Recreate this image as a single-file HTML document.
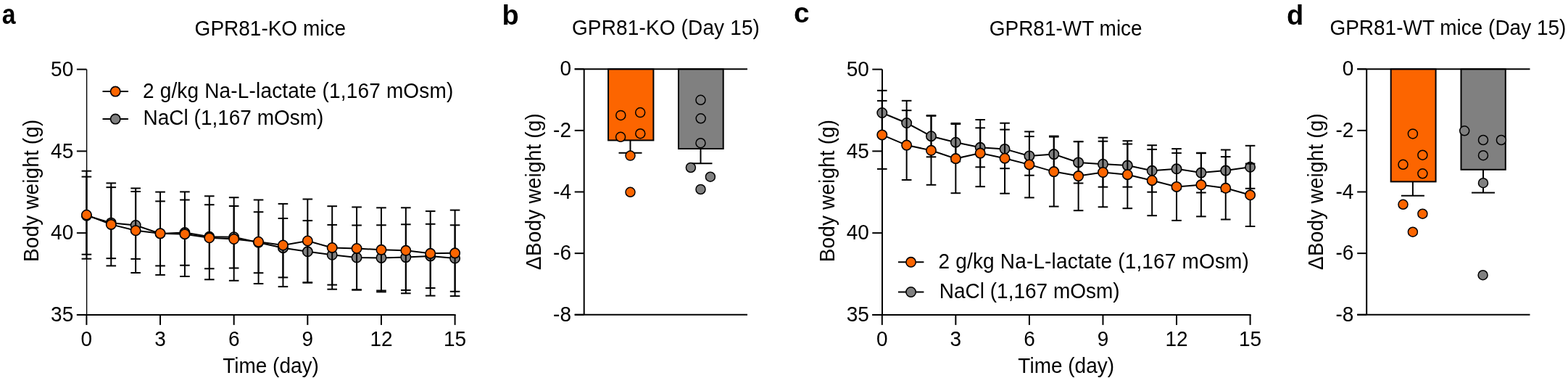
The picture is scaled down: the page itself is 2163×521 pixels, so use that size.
<!DOCTYPE html>
<html><head><meta charset="utf-8"><title>GPR81 body weight</title>
<style>
html,body{margin:0;padding:0;background:#fff;}
svg{display:block;}
text{font-family:'Liberation Sans', Arial, Helvetica, sans-serif;fill:#000;}
</style></head>
<body>
<svg width="2163" height="521" viewBox="0 0 2163 521">
<rect x="0" y="0" width="2163" height="521" fill="#fff"/>
<text transform="translate(2.80,33.40) scale(0.89,1)" font-size="38" font-weight="bold">a</text>
<text transform="translate(692.60,34.00) scale(1.0,1)" font-size="38" font-weight="bold">b</text>
<text transform="translate(1095.00,31.10) scale(1.02,1)" font-size="38" font-weight="bold">c</text>
<text transform="translate(1775.10,33.60) scale(1.0,1)" font-size="38" font-weight="bold">d</text>
<text transform="translate(372.80,49.20) scale(1,1.04)" text-anchor="middle" font-size="28" font-weight="normal" >GPR81-KO mice</text>
<text transform="translate(918.50,48.00) scale(1,1.04)" text-anchor="middle" font-size="28" font-weight="normal" letter-spacing="0.15">GPR81-KO (Day 15)</text>
<text transform="translate(1470.20,49.40) scale(1,1.04)" text-anchor="middle" font-size="28" font-weight="normal" >GPR81-WT mice</text>
<text transform="translate(1997.40,48.00) scale(1,1.04)" text-anchor="middle" font-size="28" font-weight="normal" >GPR81-WT mice (Day 15)</text>
<line x1="119.60" y1="95.60" x2="119.60" y2="434.90" stroke="#000" stroke-width="1.4"/>
<line x1="105.90" y1="95.60" x2="119.40" y2="95.60" stroke="#000" stroke-width="2"/>
<text transform="translate(101.20,104.80) scale(1,1.04)" text-anchor="end" font-size="28" font-weight="normal" >50</text>
<line x1="105.90" y1="208.37" x2="119.40" y2="208.37" stroke="#000" stroke-width="2"/>
<text transform="translate(101.20,217.57) scale(1,1.04)" text-anchor="end" font-size="28" font-weight="normal" >45</text>
<line x1="105.90" y1="321.13" x2="119.40" y2="321.13" stroke="#000" stroke-width="2"/>
<text transform="translate(101.20,330.33) scale(1,1.04)" text-anchor="end" font-size="28" font-weight="normal" >40</text>
<line x1="105.90" y1="433.90" x2="119.40" y2="433.90" stroke="#000" stroke-width="2"/>
<text transform="translate(101.20,443.10) scale(1,1.04)" text-anchor="end" font-size="28" font-weight="normal" >35</text>
<line x1="105.90" y1="433.90" x2="628.60" y2="433.90" stroke="#000" stroke-width="2"/>
<line x1="119.40" y1="433.90" x2="119.40" y2="447.90" stroke="#000" stroke-width="2"/>
<text transform="translate(119.40,476.90) scale(1,1.04)" text-anchor="middle" font-size="28" font-weight="normal" >0</text>
<line x1="221.04" y1="433.90" x2="221.04" y2="447.90" stroke="#000" stroke-width="2"/>
<text transform="translate(221.04,476.90) scale(1,1.04)" text-anchor="middle" font-size="28" font-weight="normal" >3</text>
<line x1="322.68" y1="433.90" x2="322.68" y2="447.90" stroke="#000" stroke-width="2"/>
<text transform="translate(322.68,476.90) scale(1,1.04)" text-anchor="middle" font-size="28" font-weight="normal" >6</text>
<line x1="424.32" y1="433.90" x2="424.32" y2="447.90" stroke="#000" stroke-width="2"/>
<text transform="translate(424.32,476.90) scale(1,1.04)" text-anchor="middle" font-size="28" font-weight="normal" >9</text>
<line x1="525.96" y1="433.90" x2="525.96" y2="447.90" stroke="#000" stroke-width="2"/>
<text transform="translate(525.96,476.90) scale(1,1.04)" text-anchor="middle" font-size="28" font-weight="normal" >12</text>
<line x1="627.60" y1="433.90" x2="627.60" y2="447.90" stroke="#000" stroke-width="2"/>
<text transform="translate(627.60,476.90) scale(1,1.04)" text-anchor="middle" font-size="28" font-weight="normal" >15</text>
<text transform="translate(373.50,513.80) scale(1,1.04)" text-anchor="middle" font-size="28" font-weight="normal" >Time (day)</text>
<text transform="translate(53.30,262.80) rotate(-90) scale(1,1.04)" text-anchor="middle" font-size="28" letter-spacing="0.14">Body weight (g)</text>
<line x1="119.40" y1="243.60" x2="119.40" y2="350.70" stroke="#000" stroke-width="2"/>
<line x1="112.60" y1="243.60" x2="126.20" y2="243.60" stroke="#000" stroke-width="2"/>
<line x1="112.60" y1="350.70" x2="126.20" y2="350.70" stroke="#000" stroke-width="2"/>
<line x1="153.28" y1="258.15" x2="153.28" y2="356.15" stroke="#000" stroke-width="2"/>
<line x1="146.48" y1="258.15" x2="160.08" y2="258.15" stroke="#000" stroke-width="2"/>
<line x1="146.48" y1="356.15" x2="160.08" y2="356.15" stroke="#000" stroke-width="2"/>
<line x1="187.16" y1="264.00" x2="187.16" y2="356.90" stroke="#000" stroke-width="2"/>
<line x1="180.36" y1="264.00" x2="193.96" y2="264.00" stroke="#000" stroke-width="2"/>
<line x1="180.36" y1="356.90" x2="193.96" y2="356.90" stroke="#000" stroke-width="2"/>
<line x1="221.04" y1="277.40" x2="221.04" y2="366.40" stroke="#000" stroke-width="2"/>
<line x1="214.24" y1="277.40" x2="227.84" y2="277.40" stroke="#000" stroke-width="2"/>
<line x1="214.24" y1="366.40" x2="227.84" y2="366.40" stroke="#000" stroke-width="2"/>
<line x1="254.92" y1="275.50" x2="254.92" y2="365.70" stroke="#000" stroke-width="2"/>
<line x1="248.12" y1="275.50" x2="261.72" y2="275.50" stroke="#000" stroke-width="2"/>
<line x1="248.12" y1="365.70" x2="261.72" y2="365.70" stroke="#000" stroke-width="2"/>
<line x1="288.80" y1="282.20" x2="288.80" y2="370.30" stroke="#000" stroke-width="2"/>
<line x1="282.00" y1="282.20" x2="295.60" y2="282.20" stroke="#000" stroke-width="2"/>
<line x1="282.00" y1="370.30" x2="295.60" y2="370.30" stroke="#000" stroke-width="2"/>
<line x1="322.68" y1="284.00" x2="322.68" y2="369.50" stroke="#000" stroke-width="2"/>
<line x1="315.88" y1="284.00" x2="329.48" y2="284.00" stroke="#000" stroke-width="2"/>
<line x1="315.88" y1="369.50" x2="329.48" y2="369.50" stroke="#000" stroke-width="2"/>
<line x1="356.56" y1="292.20" x2="356.56" y2="376.20" stroke="#000" stroke-width="2"/>
<line x1="349.76" y1="292.20" x2="363.36" y2="292.20" stroke="#000" stroke-width="2"/>
<line x1="349.76" y1="376.20" x2="363.36" y2="376.20" stroke="#000" stroke-width="2"/>
<line x1="390.44" y1="301.00" x2="390.44" y2="382.40" stroke="#000" stroke-width="2"/>
<line x1="383.64" y1="301.00" x2="397.24" y2="301.00" stroke="#000" stroke-width="2"/>
<line x1="383.64" y1="382.40" x2="397.24" y2="382.40" stroke="#000" stroke-width="2"/>
<line x1="424.32" y1="304.10" x2="424.32" y2="389.50" stroke="#000" stroke-width="2"/>
<line x1="417.52" y1="304.10" x2="431.12" y2="304.10" stroke="#000" stroke-width="2"/>
<line x1="417.52" y1="389.50" x2="431.12" y2="389.50" stroke="#000" stroke-width="2"/>
<line x1="458.20" y1="309.90" x2="458.20" y2="392.60" stroke="#000" stroke-width="2"/>
<line x1="451.40" y1="309.90" x2="465.00" y2="309.90" stroke="#000" stroke-width="2"/>
<line x1="451.40" y1="392.60" x2="465.00" y2="392.60" stroke="#000" stroke-width="2"/>
<line x1="492.08" y1="310.50" x2="492.08" y2="399.50" stroke="#000" stroke-width="2"/>
<line x1="485.28" y1="310.50" x2="498.88" y2="310.50" stroke="#000" stroke-width="2"/>
<line x1="485.28" y1="399.50" x2="498.88" y2="399.50" stroke="#000" stroke-width="2"/>
<line x1="525.96" y1="310.30" x2="525.96" y2="400.50" stroke="#000" stroke-width="2"/>
<line x1="519.16" y1="310.30" x2="532.76" y2="310.30" stroke="#000" stroke-width="2"/>
<line x1="519.16" y1="400.50" x2="532.76" y2="400.50" stroke="#000" stroke-width="2"/>
<line x1="559.84" y1="309.30" x2="559.84" y2="399.90" stroke="#000" stroke-width="2"/>
<line x1="553.04" y1="309.30" x2="566.64" y2="309.30" stroke="#000" stroke-width="2"/>
<line x1="553.04" y1="399.90" x2="566.64" y2="399.90" stroke="#000" stroke-width="2"/>
<line x1="593.72" y1="308.80" x2="593.72" y2="397.00" stroke="#000" stroke-width="2"/>
<line x1="586.92" y1="308.80" x2="600.52" y2="308.80" stroke="#000" stroke-width="2"/>
<line x1="586.92" y1="397.00" x2="600.52" y2="397.00" stroke="#000" stroke-width="2"/>
<line x1="627.60" y1="310.30" x2="627.60" y2="401.80" stroke="#000" stroke-width="2"/>
<line x1="620.80" y1="310.30" x2="634.40" y2="310.30" stroke="#000" stroke-width="2"/>
<line x1="620.80" y1="401.80" x2="634.40" y2="401.80" stroke="#000" stroke-width="2"/>
<polyline points="119.40,297.15 153.28,307.15 187.16,310.45 221.04,321.90 254.92,320.60 288.80,326.25 322.68,326.75 356.56,334.20 390.44,341.70 424.32,346.80 458.20,351.25 492.08,355.00 525.96,355.40 559.84,354.60 593.72,352.90 627.60,356.05" fill="none" stroke="#000" stroke-width="2"/>
<circle cx="119.40" cy="297.15" r="6.7" fill="#808080" stroke="#000" stroke-width="1.6"/>
<circle cx="153.28" cy="307.15" r="6.7" fill="#808080" stroke="#000" stroke-width="1.6"/>
<circle cx="187.16" cy="310.45" r="6.7" fill="#808080" stroke="#000" stroke-width="1.6"/>
<circle cx="221.04" cy="321.90" r="6.7" fill="#808080" stroke="#000" stroke-width="1.6"/>
<circle cx="254.92" cy="320.60" r="6.7" fill="#808080" stroke="#000" stroke-width="1.6"/>
<circle cx="288.80" cy="326.25" r="6.7" fill="#808080" stroke="#000" stroke-width="1.6"/>
<circle cx="322.68" cy="326.75" r="6.7" fill="#808080" stroke="#000" stroke-width="1.6"/>
<circle cx="356.56" cy="334.20" r="6.7" fill="#808080" stroke="#000" stroke-width="1.6"/>
<circle cx="390.44" cy="341.70" r="6.7" fill="#808080" stroke="#000" stroke-width="1.6"/>
<circle cx="424.32" cy="346.80" r="6.7" fill="#808080" stroke="#000" stroke-width="1.6"/>
<circle cx="458.20" cy="351.25" r="6.7" fill="#808080" stroke="#000" stroke-width="1.6"/>
<circle cx="492.08" cy="355.00" r="6.7" fill="#808080" stroke="#000" stroke-width="1.6"/>
<circle cx="525.96" cy="355.40" r="6.7" fill="#808080" stroke="#000" stroke-width="1.6"/>
<circle cx="559.84" cy="354.60" r="6.7" fill="#808080" stroke="#000" stroke-width="1.6"/>
<circle cx="593.72" cy="352.90" r="6.7" fill="#808080" stroke="#000" stroke-width="1.6"/>
<circle cx="627.60" cy="356.05" r="6.7" fill="#808080" stroke="#000" stroke-width="1.6"/>
<line x1="119.40" y1="235.70" x2="119.40" y2="356.70" stroke="#000" stroke-width="2"/>
<line x1="112.60" y1="235.70" x2="126.20" y2="235.70" stroke="#000" stroke-width="2"/>
<line x1="112.60" y1="356.70" x2="126.20" y2="356.70" stroke="#000" stroke-width="2"/>
<line x1="153.28" y1="252.40" x2="153.28" y2="366.40" stroke="#000" stroke-width="2"/>
<line x1="146.48" y1="252.40" x2="160.08" y2="252.40" stroke="#000" stroke-width="2"/>
<line x1="146.48" y1="366.40" x2="160.08" y2="366.40" stroke="#000" stroke-width="2"/>
<line x1="187.16" y1="259.50" x2="187.16" y2="376.00" stroke="#000" stroke-width="2"/>
<line x1="180.36" y1="259.50" x2="193.96" y2="259.50" stroke="#000" stroke-width="2"/>
<line x1="180.36" y1="376.00" x2="193.96" y2="376.00" stroke="#000" stroke-width="2"/>
<line x1="221.04" y1="264.60" x2="221.04" y2="378.90" stroke="#000" stroke-width="2"/>
<line x1="214.24" y1="264.60" x2="227.84" y2="264.60" stroke="#000" stroke-width="2"/>
<line x1="214.24" y1="378.90" x2="227.84" y2="378.90" stroke="#000" stroke-width="2"/>
<line x1="254.92" y1="264.40" x2="254.92" y2="381.00" stroke="#000" stroke-width="2"/>
<line x1="248.12" y1="264.40" x2="261.72" y2="264.40" stroke="#000" stroke-width="2"/>
<line x1="248.12" y1="381.00" x2="261.72" y2="381.00" stroke="#000" stroke-width="2"/>
<line x1="288.80" y1="270.30" x2="288.80" y2="385.30" stroke="#000" stroke-width="2"/>
<line x1="282.00" y1="270.30" x2="295.60" y2="270.30" stroke="#000" stroke-width="2"/>
<line x1="282.00" y1="385.30" x2="295.60" y2="385.30" stroke="#000" stroke-width="2"/>
<line x1="322.68" y1="272.20" x2="322.68" y2="386.80" stroke="#000" stroke-width="2"/>
<line x1="315.88" y1="272.20" x2="329.48" y2="272.20" stroke="#000" stroke-width="2"/>
<line x1="315.88" y1="386.80" x2="329.48" y2="386.80" stroke="#000" stroke-width="2"/>
<line x1="356.56" y1="275.50" x2="356.56" y2="391.00" stroke="#000" stroke-width="2"/>
<line x1="349.76" y1="275.50" x2="363.36" y2="275.50" stroke="#000" stroke-width="2"/>
<line x1="349.76" y1="391.00" x2="363.36" y2="391.00" stroke="#000" stroke-width="2"/>
<line x1="390.44" y1="280.90" x2="390.44" y2="395.10" stroke="#000" stroke-width="2"/>
<line x1="383.64" y1="280.90" x2="397.24" y2="280.90" stroke="#000" stroke-width="2"/>
<line x1="383.64" y1="395.10" x2="397.24" y2="395.10" stroke="#000" stroke-width="2"/>
<line x1="424.32" y1="274.50" x2="424.32" y2="389.50" stroke="#000" stroke-width="2"/>
<line x1="417.52" y1="274.50" x2="431.12" y2="274.50" stroke="#000" stroke-width="2"/>
<line x1="417.52" y1="389.50" x2="431.12" y2="389.50" stroke="#000" stroke-width="2"/>
<line x1="458.20" y1="284.20" x2="458.20" y2="398.70" stroke="#000" stroke-width="2"/>
<line x1="451.40" y1="284.20" x2="465.00" y2="284.20" stroke="#000" stroke-width="2"/>
<line x1="451.40" y1="398.70" x2="465.00" y2="398.70" stroke="#000" stroke-width="2"/>
<line x1="492.08" y1="285.45" x2="492.08" y2="399.45" stroke="#000" stroke-width="2"/>
<line x1="485.28" y1="285.45" x2="498.88" y2="285.45" stroke="#000" stroke-width="2"/>
<line x1="485.28" y1="399.45" x2="498.88" y2="399.45" stroke="#000" stroke-width="2"/>
<line x1="525.96" y1="286.35" x2="525.96" y2="402.35" stroke="#000" stroke-width="2"/>
<line x1="519.16" y1="286.35" x2="532.76" y2="286.35" stroke="#000" stroke-width="2"/>
<line x1="519.16" y1="402.35" x2="532.76" y2="402.35" stroke="#000" stroke-width="2"/>
<line x1="559.84" y1="286.30" x2="559.84" y2="404.30" stroke="#000" stroke-width="2"/>
<line x1="553.04" y1="286.30" x2="566.64" y2="286.30" stroke="#000" stroke-width="2"/>
<line x1="553.04" y1="404.30" x2="566.64" y2="404.30" stroke="#000" stroke-width="2"/>
<line x1="593.72" y1="291.10" x2="593.72" y2="407.60" stroke="#000" stroke-width="2"/>
<line x1="586.92" y1="291.10" x2="600.52" y2="291.10" stroke="#000" stroke-width="2"/>
<line x1="586.92" y1="407.60" x2="600.52" y2="407.60" stroke="#000" stroke-width="2"/>
<line x1="627.60" y1="289.60" x2="627.60" y2="408.10" stroke="#000" stroke-width="2"/>
<line x1="620.80" y1="289.60" x2="634.40" y2="289.60" stroke="#000" stroke-width="2"/>
<line x1="620.80" y1="408.10" x2="634.40" y2="408.10" stroke="#000" stroke-width="2"/>
<polyline points="119.40,296.20 153.28,309.40 187.16,317.75 221.04,321.75 254.92,322.70 288.80,327.80 322.68,329.50 356.56,333.25 390.44,338.00 424.32,332.00 458.20,341.45 492.08,342.45 525.96,344.35 559.84,345.30 593.72,349.35 627.60,348.85" fill="none" stroke="#000" stroke-width="2"/>
<circle cx="119.40" cy="296.20" r="6.7" fill="#FC6500" stroke="#000" stroke-width="1.6"/>
<circle cx="153.28" cy="309.40" r="6.7" fill="#FC6500" stroke="#000" stroke-width="1.6"/>
<circle cx="187.16" cy="317.75" r="6.7" fill="#FC6500" stroke="#000" stroke-width="1.6"/>
<circle cx="221.04" cy="321.75" r="6.7" fill="#FC6500" stroke="#000" stroke-width="1.6"/>
<circle cx="254.92" cy="322.70" r="6.7" fill="#FC6500" stroke="#000" stroke-width="1.6"/>
<circle cx="288.80" cy="327.80" r="6.7" fill="#FC6500" stroke="#000" stroke-width="1.6"/>
<circle cx="322.68" cy="329.50" r="6.7" fill="#FC6500" stroke="#000" stroke-width="1.6"/>
<circle cx="356.56" cy="333.25" r="6.7" fill="#FC6500" stroke="#000" stroke-width="1.6"/>
<circle cx="390.44" cy="338.00" r="6.7" fill="#FC6500" stroke="#000" stroke-width="1.6"/>
<circle cx="424.32" cy="332.00" r="6.7" fill="#FC6500" stroke="#000" stroke-width="1.6"/>
<circle cx="458.20" cy="341.45" r="6.7" fill="#FC6500" stroke="#000" stroke-width="1.6"/>
<circle cx="492.08" cy="342.45" r="6.7" fill="#FC6500" stroke="#000" stroke-width="1.6"/>
<circle cx="525.96" cy="344.35" r="6.7" fill="#FC6500" stroke="#000" stroke-width="1.6"/>
<circle cx="559.84" cy="345.30" r="6.7" fill="#FC6500" stroke="#000" stroke-width="1.6"/>
<circle cx="593.72" cy="349.35" r="6.7" fill="#FC6500" stroke="#000" stroke-width="1.6"/>
<circle cx="627.60" cy="348.85" r="6.7" fill="#FC6500" stroke="#000" stroke-width="1.6"/>
<line x1="141.50" y1="126.10" x2="177.00" y2="126.10" stroke="#000" stroke-width="2"/>
<circle cx="159.20" cy="126.10" r="6.7" fill="#FC6500" stroke="#000" stroke-width="1.6"/>
<line x1="141.50" y1="164.10" x2="177.00" y2="164.10" stroke="#000" stroke-width="2"/>
<circle cx="159.20" cy="164.10" r="6.7" fill="#808080" stroke="#000" stroke-width="1.6"/>
<text transform="translate(197.00,134.50) scale(1,1.04)" text-anchor="start" font-size="28" font-weight="normal" letter-spacing="0.17">2 g/kg Na-L-lactate (1,167 mOsm)</text>
<text transform="translate(197.60,172.00) scale(1,1.04)" text-anchor="start" font-size="28" font-weight="normal" >NaCl (1,167 mOsm)</text>
<line x1="1217.00" y1="95.60" x2="1217.00" y2="434.90" stroke="#000" stroke-width="2.0"/>
<line x1="1203.30" y1="95.60" x2="1216.80" y2="95.60" stroke="#000" stroke-width="2"/>
<text transform="translate(1198.80,104.80) scale(1,1.04)" text-anchor="end" font-size="28" font-weight="normal" >50</text>
<line x1="1203.30" y1="208.37" x2="1216.80" y2="208.37" stroke="#000" stroke-width="2"/>
<text transform="translate(1198.80,217.57) scale(1,1.04)" text-anchor="end" font-size="28" font-weight="normal" >45</text>
<line x1="1203.30" y1="321.13" x2="1216.80" y2="321.13" stroke="#000" stroke-width="2"/>
<text transform="translate(1198.80,330.33) scale(1,1.04)" text-anchor="end" font-size="28" font-weight="normal" >40</text>
<line x1="1203.30" y1="433.90" x2="1216.80" y2="433.90" stroke="#000" stroke-width="2"/>
<text transform="translate(1198.80,443.10) scale(1,1.04)" text-anchor="end" font-size="28" font-weight="normal" >35</text>
<line x1="1203.30" y1="433.90" x2="1725.60" y2="433.90" stroke="#000" stroke-width="2"/>
<line x1="1216.80" y1="433.90" x2="1216.80" y2="447.90" stroke="#000" stroke-width="2"/>
<text transform="translate(1216.80,476.90) scale(1,1.04)" text-anchor="middle" font-size="28" font-weight="normal" >0</text>
<line x1="1318.36" y1="433.90" x2="1318.36" y2="447.90" stroke="#000" stroke-width="2"/>
<text transform="translate(1318.36,476.90) scale(1,1.04)" text-anchor="middle" font-size="28" font-weight="normal" >3</text>
<line x1="1419.92" y1="433.90" x2="1419.92" y2="447.90" stroke="#000" stroke-width="2"/>
<text transform="translate(1419.92,476.90) scale(1,1.04)" text-anchor="middle" font-size="28" font-weight="normal" >6</text>
<line x1="1521.48" y1="433.90" x2="1521.48" y2="447.90" stroke="#000" stroke-width="2"/>
<text transform="translate(1521.48,476.90) scale(1,1.04)" text-anchor="middle" font-size="28" font-weight="normal" >9</text>
<line x1="1623.04" y1="433.90" x2="1623.04" y2="447.90" stroke="#000" stroke-width="2"/>
<text transform="translate(1623.04,476.90) scale(1,1.04)" text-anchor="middle" font-size="28" font-weight="normal" >12</text>
<line x1="1724.60" y1="433.90" x2="1724.60" y2="447.90" stroke="#000" stroke-width="2"/>
<text transform="translate(1724.60,476.90) scale(1,1.04)" text-anchor="middle" font-size="28" font-weight="normal" >15</text>
<text transform="translate(1470.70,513.80) scale(1,1.04)" text-anchor="middle" font-size="28" font-weight="normal" >Time (day)</text>
<text transform="translate(1151.20,263.00) rotate(-90) scale(1,1.04)" text-anchor="middle" font-size="28" letter-spacing="0.14">Body weight (g)</text>
<line x1="1216.80" y1="124.80" x2="1216.80" y2="186.20" stroke="#000" stroke-width="2"/>
<line x1="1210.00" y1="124.80" x2="1223.60" y2="124.80" stroke="#000" stroke-width="2"/>
<line x1="1210.00" y1="186.20" x2="1223.60" y2="186.20" stroke="#000" stroke-width="2"/>
<line x1="1250.65" y1="138.80" x2="1250.65" y2="200.20" stroke="#000" stroke-width="2"/>
<line x1="1243.85" y1="138.80" x2="1257.45" y2="138.80" stroke="#000" stroke-width="2"/>
<line x1="1243.85" y1="200.20" x2="1257.45" y2="200.20" stroke="#000" stroke-width="2"/>
<line x1="1284.51" y1="159.10" x2="1284.51" y2="216.30" stroke="#000" stroke-width="2"/>
<line x1="1277.71" y1="159.10" x2="1291.31" y2="159.10" stroke="#000" stroke-width="2"/>
<line x1="1277.71" y1="216.30" x2="1291.31" y2="216.30" stroke="#000" stroke-width="2"/>
<line x1="1318.36" y1="169.90" x2="1318.36" y2="222.50" stroke="#000" stroke-width="2"/>
<line x1="1311.56" y1="169.90" x2="1325.16" y2="169.90" stroke="#000" stroke-width="2"/>
<line x1="1311.56" y1="222.50" x2="1325.16" y2="222.50" stroke="#000" stroke-width="2"/>
<line x1="1352.21" y1="176.30" x2="1352.21" y2="230.30" stroke="#000" stroke-width="2"/>
<line x1="1345.41" y1="176.30" x2="1359.01" y2="176.30" stroke="#000" stroke-width="2"/>
<line x1="1345.41" y1="230.30" x2="1359.01" y2="230.30" stroke="#000" stroke-width="2"/>
<line x1="1386.07" y1="178.60" x2="1386.07" y2="232.20" stroke="#000" stroke-width="2"/>
<line x1="1379.27" y1="178.60" x2="1392.87" y2="178.60" stroke="#000" stroke-width="2"/>
<line x1="1379.27" y1="232.20" x2="1392.87" y2="232.20" stroke="#000" stroke-width="2"/>
<line x1="1419.92" y1="188.10" x2="1419.92" y2="241.70" stroke="#000" stroke-width="2"/>
<line x1="1413.12" y1="188.10" x2="1426.72" y2="188.10" stroke="#000" stroke-width="2"/>
<line x1="1413.12" y1="241.70" x2="1426.72" y2="241.70" stroke="#000" stroke-width="2"/>
<line x1="1453.77" y1="187.60" x2="1453.77" y2="237.60" stroke="#000" stroke-width="2"/>
<line x1="1446.97" y1="187.60" x2="1460.57" y2="187.60" stroke="#000" stroke-width="2"/>
<line x1="1446.97" y1="237.60" x2="1460.57" y2="237.60" stroke="#000" stroke-width="2"/>
<line x1="1487.63" y1="195.30" x2="1487.63" y2="252.50" stroke="#000" stroke-width="2"/>
<line x1="1480.83" y1="195.30" x2="1494.43" y2="195.30" stroke="#000" stroke-width="2"/>
<line x1="1480.83" y1="252.50" x2="1494.43" y2="252.50" stroke="#000" stroke-width="2"/>
<line x1="1521.48" y1="194.70" x2="1521.48" y2="257.70" stroke="#000" stroke-width="2"/>
<line x1="1514.68" y1="194.70" x2="1528.28" y2="194.70" stroke="#000" stroke-width="2"/>
<line x1="1514.68" y1="257.70" x2="1528.28" y2="257.70" stroke="#000" stroke-width="2"/>
<line x1="1555.33" y1="198.50" x2="1555.33" y2="257.70" stroke="#000" stroke-width="2"/>
<line x1="1548.53" y1="198.50" x2="1562.13" y2="198.50" stroke="#000" stroke-width="2"/>
<line x1="1548.53" y1="257.70" x2="1562.13" y2="257.70" stroke="#000" stroke-width="2"/>
<line x1="1589.19" y1="205.90" x2="1589.19" y2="264.70" stroke="#000" stroke-width="2"/>
<line x1="1582.39" y1="205.90" x2="1595.99" y2="205.90" stroke="#000" stroke-width="2"/>
<line x1="1582.39" y1="264.70" x2="1595.99" y2="264.70" stroke="#000" stroke-width="2"/>
<line x1="1623.04" y1="205.10" x2="1623.04" y2="260.50" stroke="#000" stroke-width="2"/>
<line x1="1616.24" y1="205.10" x2="1629.84" y2="205.10" stroke="#000" stroke-width="2"/>
<line x1="1616.24" y1="260.50" x2="1629.84" y2="260.50" stroke="#000" stroke-width="2"/>
<line x1="1656.89" y1="210.70" x2="1656.89" y2="265.50" stroke="#000" stroke-width="2"/>
<line x1="1650.09" y1="210.70" x2="1663.69" y2="210.70" stroke="#000" stroke-width="2"/>
<line x1="1650.09" y1="265.50" x2="1663.69" y2="265.50" stroke="#000" stroke-width="2"/>
<line x1="1690.75" y1="206.50" x2="1690.75" y2="263.70" stroke="#000" stroke-width="2"/>
<line x1="1683.95" y1="206.50" x2="1697.55" y2="206.50" stroke="#000" stroke-width="2"/>
<line x1="1683.95" y1="263.70" x2="1697.55" y2="263.70" stroke="#000" stroke-width="2"/>
<line x1="1724.60" y1="200.80" x2="1724.60" y2="259.80" stroke="#000" stroke-width="2"/>
<line x1="1717.80" y1="200.80" x2="1731.40" y2="200.80" stroke="#000" stroke-width="2"/>
<line x1="1717.80" y1="259.80" x2="1731.40" y2="259.80" stroke="#000" stroke-width="2"/>
<polyline points="1216.80,155.50 1250.65,169.50 1284.51,187.70 1318.36,196.20 1352.21,203.30 1386.07,205.40 1419.92,214.90 1453.77,212.60 1487.63,223.90 1521.48,226.20 1555.33,228.10 1589.19,235.30 1623.04,232.80 1656.89,238.10 1690.75,235.10 1724.60,230.30" fill="none" stroke="#000" stroke-width="2"/>
<circle cx="1216.80" cy="155.50" r="6.7" fill="#808080" stroke="#000" stroke-width="1.6"/>
<circle cx="1250.65" cy="169.50" r="6.7" fill="#808080" stroke="#000" stroke-width="1.6"/>
<circle cx="1284.51" cy="187.70" r="6.7" fill="#808080" stroke="#000" stroke-width="1.6"/>
<circle cx="1318.36" cy="196.20" r="6.7" fill="#808080" stroke="#000" stroke-width="1.6"/>
<circle cx="1352.21" cy="203.30" r="6.7" fill="#808080" stroke="#000" stroke-width="1.6"/>
<circle cx="1386.07" cy="205.40" r="6.7" fill="#808080" stroke="#000" stroke-width="1.6"/>
<circle cx="1419.92" cy="214.90" r="6.7" fill="#808080" stroke="#000" stroke-width="1.6"/>
<circle cx="1453.77" cy="212.60" r="6.7" fill="#808080" stroke="#000" stroke-width="1.6"/>
<circle cx="1487.63" cy="223.90" r="6.7" fill="#808080" stroke="#000" stroke-width="1.6"/>
<circle cx="1521.48" cy="226.20" r="6.7" fill="#808080" stroke="#000" stroke-width="1.6"/>
<circle cx="1555.33" cy="228.10" r="6.7" fill="#808080" stroke="#000" stroke-width="1.6"/>
<circle cx="1589.19" cy="235.30" r="6.7" fill="#808080" stroke="#000" stroke-width="1.6"/>
<circle cx="1623.04" cy="232.80" r="6.7" fill="#808080" stroke="#000" stroke-width="1.6"/>
<circle cx="1656.89" cy="238.10" r="6.7" fill="#808080" stroke="#000" stroke-width="1.6"/>
<circle cx="1690.75" cy="235.10" r="6.7" fill="#808080" stroke="#000" stroke-width="1.6"/>
<circle cx="1724.60" cy="230.30" r="6.7" fill="#808080" stroke="#000" stroke-width="1.6"/>
<line x1="1216.80" y1="138.90" x2="1216.80" y2="232.90" stroke="#000" stroke-width="2"/>
<line x1="1210.00" y1="138.90" x2="1223.60" y2="138.90" stroke="#000" stroke-width="2"/>
<line x1="1210.00" y1="232.90" x2="1223.60" y2="232.90" stroke="#000" stroke-width="2"/>
<line x1="1250.65" y1="152.20" x2="1250.65" y2="248.00" stroke="#000" stroke-width="2"/>
<line x1="1243.85" y1="152.20" x2="1257.45" y2="152.20" stroke="#000" stroke-width="2"/>
<line x1="1243.85" y1="248.00" x2="1257.45" y2="248.00" stroke="#000" stroke-width="2"/>
<line x1="1284.51" y1="159.80" x2="1284.51" y2="254.80" stroke="#000" stroke-width="2"/>
<line x1="1277.71" y1="159.80" x2="1291.31" y2="159.80" stroke="#000" stroke-width="2"/>
<line x1="1277.71" y1="254.80" x2="1291.31" y2="254.80" stroke="#000" stroke-width="2"/>
<line x1="1318.36" y1="171.00" x2="1318.36" y2="266.20" stroke="#000" stroke-width="2"/>
<line x1="1311.56" y1="171.00" x2="1325.16" y2="171.00" stroke="#000" stroke-width="2"/>
<line x1="1311.56" y1="266.20" x2="1325.16" y2="266.20" stroke="#000" stroke-width="2"/>
<line x1="1352.21" y1="165.00" x2="1352.21" y2="257.20" stroke="#000" stroke-width="2"/>
<line x1="1345.41" y1="165.00" x2="1359.01" y2="165.00" stroke="#000" stroke-width="2"/>
<line x1="1345.41" y1="257.20" x2="1359.01" y2="257.20" stroke="#000" stroke-width="2"/>
<line x1="1386.07" y1="169.70" x2="1386.07" y2="266.70" stroke="#000" stroke-width="2"/>
<line x1="1379.27" y1="169.70" x2="1392.87" y2="169.70" stroke="#000" stroke-width="2"/>
<line x1="1379.27" y1="266.70" x2="1392.87" y2="266.70" stroke="#000" stroke-width="2"/>
<line x1="1419.92" y1="181.40" x2="1419.92" y2="272.40" stroke="#000" stroke-width="2"/>
<line x1="1413.12" y1="181.40" x2="1426.72" y2="181.40" stroke="#000" stroke-width="2"/>
<line x1="1413.12" y1="272.40" x2="1426.72" y2="272.40" stroke="#000" stroke-width="2"/>
<line x1="1453.77" y1="188.60" x2="1453.77" y2="284.60" stroke="#000" stroke-width="2"/>
<line x1="1446.97" y1="188.60" x2="1460.57" y2="188.60" stroke="#000" stroke-width="2"/>
<line x1="1446.97" y1="284.60" x2="1460.57" y2="284.60" stroke="#000" stroke-width="2"/>
<line x1="1487.63" y1="195.00" x2="1487.63" y2="290.20" stroke="#000" stroke-width="2"/>
<line x1="1480.83" y1="195.00" x2="1494.43" y2="195.00" stroke="#000" stroke-width="2"/>
<line x1="1480.83" y1="290.20" x2="1494.43" y2="290.20" stroke="#000" stroke-width="2"/>
<line x1="1521.48" y1="189.70" x2="1521.48" y2="285.30" stroke="#000" stroke-width="2"/>
<line x1="1514.68" y1="189.70" x2="1528.28" y2="189.70" stroke="#000" stroke-width="2"/>
<line x1="1514.68" y1="285.30" x2="1528.28" y2="285.30" stroke="#000" stroke-width="2"/>
<line x1="1555.33" y1="194.20" x2="1555.33" y2="287.20" stroke="#000" stroke-width="2"/>
<line x1="1548.53" y1="194.20" x2="1562.13" y2="194.20" stroke="#000" stroke-width="2"/>
<line x1="1548.53" y1="287.20" x2="1562.13" y2="287.20" stroke="#000" stroke-width="2"/>
<line x1="1589.19" y1="200.20" x2="1589.19" y2="297.20" stroke="#000" stroke-width="2"/>
<line x1="1582.39" y1="200.20" x2="1595.99" y2="200.20" stroke="#000" stroke-width="2"/>
<line x1="1582.39" y1="297.20" x2="1595.99" y2="297.20" stroke="#000" stroke-width="2"/>
<line x1="1623.04" y1="210.90" x2="1623.04" y2="303.90" stroke="#000" stroke-width="2"/>
<line x1="1616.24" y1="210.90" x2="1629.84" y2="210.90" stroke="#000" stroke-width="2"/>
<line x1="1616.24" y1="303.90" x2="1629.84" y2="303.90" stroke="#000" stroke-width="2"/>
<line x1="1656.89" y1="211.20" x2="1656.89" y2="298.40" stroke="#000" stroke-width="2"/>
<line x1="1650.09" y1="211.20" x2="1663.69" y2="211.20" stroke="#000" stroke-width="2"/>
<line x1="1650.09" y1="298.40" x2="1663.69" y2="298.40" stroke="#000" stroke-width="2"/>
<line x1="1690.75" y1="216.10" x2="1690.75" y2="302.50" stroke="#000" stroke-width="2"/>
<line x1="1683.95" y1="216.10" x2="1697.55" y2="216.10" stroke="#000" stroke-width="2"/>
<line x1="1683.95" y1="302.50" x2="1697.55" y2="302.50" stroke="#000" stroke-width="2"/>
<line x1="1724.60" y1="225.60" x2="1724.60" y2="312.00" stroke="#000" stroke-width="2"/>
<line x1="1717.80" y1="225.60" x2="1731.40" y2="225.60" stroke="#000" stroke-width="2"/>
<line x1="1717.80" y1="312.00" x2="1731.40" y2="312.00" stroke="#000" stroke-width="2"/>
<polyline points="1216.80,185.90 1250.65,200.10 1284.51,207.30 1318.36,218.60 1352.21,211.10 1386.07,218.20 1419.92,226.90 1453.77,236.60 1487.63,242.60 1521.48,237.50 1555.33,240.70 1589.19,248.70 1623.04,257.40 1656.89,254.80 1690.75,259.30 1724.60,268.80" fill="none" stroke="#000" stroke-width="2"/>
<circle cx="1216.80" cy="185.90" r="6.7" fill="#FC6500" stroke="#000" stroke-width="1.6"/>
<circle cx="1250.65" cy="200.10" r="6.7" fill="#FC6500" stroke="#000" stroke-width="1.6"/>
<circle cx="1284.51" cy="207.30" r="6.7" fill="#FC6500" stroke="#000" stroke-width="1.6"/>
<circle cx="1318.36" cy="218.60" r="6.7" fill="#FC6500" stroke="#000" stroke-width="1.6"/>
<circle cx="1352.21" cy="211.10" r="6.7" fill="#FC6500" stroke="#000" stroke-width="1.6"/>
<circle cx="1386.07" cy="218.20" r="6.7" fill="#FC6500" stroke="#000" stroke-width="1.6"/>
<circle cx="1419.92" cy="226.90" r="6.7" fill="#FC6500" stroke="#000" stroke-width="1.6"/>
<circle cx="1453.77" cy="236.60" r="6.7" fill="#FC6500" stroke="#000" stroke-width="1.6"/>
<circle cx="1487.63" cy="242.60" r="6.7" fill="#FC6500" stroke="#000" stroke-width="1.6"/>
<circle cx="1521.48" cy="237.50" r="6.7" fill="#FC6500" stroke="#000" stroke-width="1.6"/>
<circle cx="1555.33" cy="240.70" r="6.7" fill="#FC6500" stroke="#000" stroke-width="1.6"/>
<circle cx="1589.19" cy="248.70" r="6.7" fill="#FC6500" stroke="#000" stroke-width="1.6"/>
<circle cx="1623.04" cy="257.40" r="6.7" fill="#FC6500" stroke="#000" stroke-width="1.6"/>
<circle cx="1656.89" cy="254.80" r="6.7" fill="#FC6500" stroke="#000" stroke-width="1.6"/>
<circle cx="1690.75" cy="259.30" r="6.7" fill="#FC6500" stroke="#000" stroke-width="1.6"/>
<circle cx="1724.60" cy="268.80" r="6.7" fill="#FC6500" stroke="#000" stroke-width="1.6"/>
<line x1="1239.00" y1="361.30" x2="1274.40" y2="361.30" stroke="#000" stroke-width="2"/>
<circle cx="1256.60" cy="361.30" r="6.7" fill="#FC6500" stroke="#000" stroke-width="1.6"/>
<line x1="1239.00" y1="402.50" x2="1274.40" y2="402.50" stroke="#000" stroke-width="2"/>
<circle cx="1256.60" cy="402.50" r="6.7" fill="#808080" stroke="#000" stroke-width="1.6"/>
<text transform="translate(1294.60,369.60) scale(1,1.04)" text-anchor="start" font-size="28" font-weight="normal" letter-spacing="0.17">2 g/kg Na-L-lactate (1,167 mOsm)</text>
<text transform="translate(1295.80,410.60) scale(1,1.04)" text-anchor="start" font-size="28" font-weight="normal" >NaCl (1,167 mOsm)</text>
<rect x="839.10" y="95.20" width="62.30" height="98.20" fill="#FC6500" stroke="#000" stroke-width="2"/>
<rect x="936.00" y="95.20" width="61.70" height="109.80" fill="#808080" stroke="#000" stroke-width="2"/>
<line x1="869.50" y1="193.40" x2="869.50" y2="210.70" stroke="#000" stroke-width="2"/>
<line x1="853.50" y1="210.70" x2="885.50" y2="210.70" stroke="#000" stroke-width="2"/>
<line x1="966.50" y1="205.00" x2="966.50" y2="225.30" stroke="#000" stroke-width="2"/>
<line x1="950.50" y1="225.30" x2="982.50" y2="225.30" stroke="#000" stroke-width="2"/>
<line x1="805.70" y1="95.20" x2="805.70" y2="433.80" stroke="#000" stroke-width="2"/>
<line x1="792.70" y1="95.20" x2="1031.00" y2="95.20" stroke="#000" stroke-width="2"/>
<line x1="792.70" y1="433.80" x2="1031.00" y2="433.80" stroke="#000" stroke-width="2"/>
<line x1="792.70" y1="95.20" x2="805.70" y2="95.20" stroke="#000" stroke-width="2"/>
<text transform="translate(788.00,104.40) scale(1,1.04)" text-anchor="end" font-size="28" font-weight="normal" >0</text>
<line x1="792.70" y1="179.85" x2="805.70" y2="179.85" stroke="#000" stroke-width="2"/>
<text transform="translate(788.00,189.05) scale(1,1.04)" text-anchor="end" font-size="28" font-weight="normal" >-2</text>
<line x1="792.70" y1="264.50" x2="805.70" y2="264.50" stroke="#000" stroke-width="2"/>
<text transform="translate(788.00,273.70) scale(1,1.04)" text-anchor="end" font-size="28" font-weight="normal" >-4</text>
<line x1="792.70" y1="349.15" x2="805.70" y2="349.15" stroke="#000" stroke-width="2"/>
<text transform="translate(788.00,358.35) scale(1,1.04)" text-anchor="end" font-size="28" font-weight="normal" >-6</text>
<line x1="792.70" y1="433.80" x2="805.70" y2="433.80" stroke="#000" stroke-width="2"/>
<text transform="translate(788.00,443.00) scale(1,1.04)" text-anchor="end" font-size="28" font-weight="normal" >-8</text>
<text transform="translate(745.70,263.90) rotate(-90) scale(1,1.04)" text-anchor="middle" font-size="28" letter-spacing="0.18">ΔBody weight (g)</text>
<circle cx="856.30" cy="158.90" r="6.5" fill="#FC6500" stroke="#000" stroke-width="1.5"/>
<circle cx="883.20" cy="155.10" r="6.5" fill="#FC6500" stroke="#000" stroke-width="1.5"/>
<circle cx="856.10" cy="188.80" r="6.5" fill="#FC6500" stroke="#000" stroke-width="1.5"/>
<circle cx="883.30" cy="184.20" r="6.5" fill="#FC6500" stroke="#000" stroke-width="1.5"/>
<circle cx="869.50" cy="214.60" r="6.5" fill="#FC6500" stroke="#000" stroke-width="1.5"/>
<circle cx="869.50" cy="264.80" r="6.5" fill="#FC6500" stroke="#000" stroke-width="1.5"/>
<circle cx="966.50" cy="137.80" r="6.5" fill="#808080" stroke="#000" stroke-width="1.5"/>
<circle cx="966.70" cy="163.30" r="6.5" fill="#808080" stroke="#000" stroke-width="1.5"/>
<circle cx="966.50" cy="197.20" r="6.5" fill="#808080" stroke="#000" stroke-width="1.5"/>
<circle cx="952.90" cy="231.00" r="6.5" fill="#808080" stroke="#000" stroke-width="1.5"/>
<circle cx="979.90" cy="243.70" r="6.5" fill="#808080" stroke="#000" stroke-width="1.5"/>
<circle cx="966.50" cy="261.00" r="6.5" fill="#808080" stroke="#000" stroke-width="1.5"/>
<rect x="1918.70" y="95.20" width="61.90" height="155.20" fill="#FC6500" stroke="#000" stroke-width="2"/>
<rect x="2015.50" y="95.20" width="61.30" height="138.60" fill="#808080" stroke="#000" stroke-width="2"/>
<line x1="1948.90" y1="250.40" x2="1948.90" y2="269.80" stroke="#000" stroke-width="2"/>
<line x1="1932.90" y1="269.80" x2="1964.90" y2="269.80" stroke="#000" stroke-width="2"/>
<line x1="2046.00" y1="233.80" x2="2046.00" y2="265.60" stroke="#000" stroke-width="2"/>
<line x1="2030.00" y1="265.60" x2="2062.00" y2="265.60" stroke="#000" stroke-width="2"/>
<line x1="1885.20" y1="95.20" x2="1885.20" y2="433.80" stroke="#000" stroke-width="2"/>
<line x1="1872.20" y1="95.20" x2="2110.50" y2="95.20" stroke="#000" stroke-width="2"/>
<line x1="1872.20" y1="433.80" x2="2110.50" y2="433.80" stroke="#000" stroke-width="2"/>
<line x1="1872.20" y1="95.20" x2="1885.20" y2="95.20" stroke="#000" stroke-width="2"/>
<text transform="translate(1867.40,104.40) scale(1,1.04)" text-anchor="end" font-size="28" font-weight="normal" >0</text>
<line x1="1872.20" y1="179.85" x2="1885.20" y2="179.85" stroke="#000" stroke-width="2"/>
<text transform="translate(1867.40,189.05) scale(1,1.04)" text-anchor="end" font-size="28" font-weight="normal" >-2</text>
<line x1="1872.20" y1="264.50" x2="1885.20" y2="264.50" stroke="#000" stroke-width="2"/>
<text transform="translate(1867.40,273.70) scale(1,1.04)" text-anchor="end" font-size="28" font-weight="normal" >-4</text>
<line x1="1872.20" y1="349.15" x2="1885.20" y2="349.15" stroke="#000" stroke-width="2"/>
<text transform="translate(1867.40,358.35) scale(1,1.04)" text-anchor="end" font-size="28" font-weight="normal" >-6</text>
<line x1="1872.20" y1="433.80" x2="1885.20" y2="433.80" stroke="#000" stroke-width="2"/>
<text transform="translate(1867.40,443.00) scale(1,1.04)" text-anchor="end" font-size="28" font-weight="normal" >-8</text>
<text transform="translate(1824.60,263.90) rotate(-90) scale(1,1.04)" text-anchor="middle" font-size="28" letter-spacing="0.18">ΔBody weight (g)</text>
<circle cx="1948.90" cy="184.40" r="6.5" fill="#FC6500" stroke="#000" stroke-width="1.5"/>
<circle cx="1962.40" cy="213.70" r="6.5" fill="#FC6500" stroke="#000" stroke-width="1.5"/>
<circle cx="1935.50" cy="226.80" r="6.5" fill="#FC6500" stroke="#000" stroke-width="1.5"/>
<circle cx="1962.40" cy="239.30" r="6.5" fill="#FC6500" stroke="#000" stroke-width="1.5"/>
<circle cx="1935.50" cy="281.80" r="6.5" fill="#FC6500" stroke="#000" stroke-width="1.5"/>
<circle cx="1962.40" cy="294.70" r="6.5" fill="#FC6500" stroke="#000" stroke-width="1.5"/>
<circle cx="1948.90" cy="319.70" r="6.5" fill="#FC6500" stroke="#000" stroke-width="1.5"/>
<circle cx="2020.20" cy="180.30" r="6.5" fill="#808080" stroke="#000" stroke-width="1.5"/>
<circle cx="2046.00" cy="193.00" r="6.5" fill="#808080" stroke="#000" stroke-width="1.5"/>
<circle cx="2070.90" cy="193.00" r="6.5" fill="#808080" stroke="#000" stroke-width="1.5"/>
<circle cx="2046.00" cy="214.20" r="6.5" fill="#808080" stroke="#000" stroke-width="1.5"/>
<circle cx="2046.00" cy="252.20" r="6.5" fill="#808080" stroke="#000" stroke-width="1.5"/>
<circle cx="2045.60" cy="379.20" r="6.5" fill="#808080" stroke="#000" stroke-width="1.5"/>
</svg>
</body></html>
